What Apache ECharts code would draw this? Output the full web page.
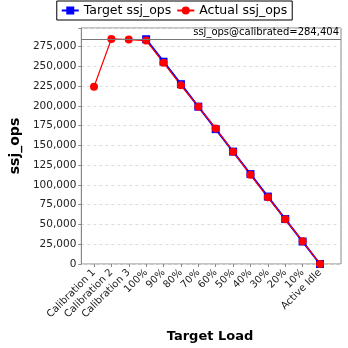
<!DOCTYPE html>
<html>
<head>
<meta charset="utf-8">
<script src="https://cdn.jsdelivr.net/npm/echarts@6/dist/echarts.min.js"></script>
<style>
  html, body { margin: 0; padding: 0; background: #fff; }
  #chart { width: 348px; height: 348px; }
</style>
</head>
<body>
<div id="chart"></div>
<script>
// Load levels along the x axis
const categories = ['Calibration 1', 'Calibration 2', 'Calibration 3', '100%', '90%', '80%', '70%',
  '60%', '50%', '40%', '30%', '20%', '10%', 'Active Idle'];
// Target throughput (only defined for the graduated load levels)
const targetOps = [null, null, null, 284404, 255964, 227523, 199083, 170642, 142202, 113762,
  85321, 56881, 28440, 0];
// Measured throughput
const actualOps = [224300, 284800, 284000, 282700, 254700, 226100, 199000, 171500, 142100, 112800,
  84400, 56500, 28700, 0];
const calibrated = 284404;
const yMax = 298624;
const yTicks = [0, 25000, 50000, 75000, 100000, 125000, 150000, 175000, 200000, 225000, 250000, 275000];

const font = 'DejaVu Sans';
const fmt = v => v.toLocaleString('en-US');

const chart = echarts.init(document.getElementById('chart'), null, { renderer: 'canvas' });
chart.setOption({
  animation: false,
  backgroundColor: '#fff',
  textStyle: { fontFamily: font },
  legend: {
    top: 1,
    left: 'center',
    itemGap: 5,
    itemWidth: 17,
    itemHeight: 10,
    padding: [3, 5, 3, 4],
    borderColor: '#000',
    borderWidth: 1,
    borderRadius: 0,
    textStyle: { fontFamily: font, fontSize: 12.5, color: '#000' },
    data: ['Target ssj_ops', 'Actual ssj_ops']
  },
  grid: [
    { left: 74, right: 7, top: 28, bottom: 84, show: true, borderColor: '#888', borderWidth: 1, backgroundColor: '#fff' },
    { left: 94, right: 28, top: 28, bottom: 84 }
  ],
  xAxis: [
    { type: 'value', gridIndex: 0, min: 0, max: 1, show: false },
    {
      type: 'category', gridIndex: 1, data: categories, boundaryGap: false,
      name: 'Target Load', nameLocation: 'middle', nameGap: 66,
      nameTextStyle: { fontFamily: font, fontSize: 13, fontWeight: 'bold', color: '#000', padding: [0, 0, 0, 6] },
      axisLine: { show: false },
      axisTick: { show: true, length: 3, lineStyle: { color: '#888' } },
      axisLabel: { rotate: 45, fontSize: 10, color: '#222', margin: 7, interval: 0, fontFamily: font },
      splitLine: { show: false }
    }
  ],
  yAxis: [
    {
      type: 'value', gridIndex: 0, min: 0, max: yMax, interval: 25000,
      name: 'ssj_ops', nameLocation: 'middle', nameGap: 54,
      nameTextStyle: { fontFamily: font, fontSize: 14, fontWeight: 'bold', color: '#000' },
      axisLine: { show: true, lineStyle: { color: '#888' } },
      axisTick: { show: true, length: 3, lineStyle: { color: '#888' } },
      axisLabel: {
        fontSize: 10.5, color: '#222', margin: 5, fontFamily: font,
        formatter: v => yTicks.includes(v) ? fmt(v) : ''
      },
      splitLine: { show: true, lineStyle: { color: '#ddd', type: [3, 3], width: 1 } }
    },
    { type: 'value', gridIndex: 1, min: 0, max: yMax, show: false }
  ],
  series: [
    {
      // Calibrated reference line across the whole plot
      type: 'line', xAxisIndex: 0, yAxisIndex: 0, data: [], silent: true,
      markLine: {
        silent: true, symbol: 'none',
        lineStyle: { color: '#777', type: 'solid', width: 1 },
        label: {
          position: 'insideEndTop', formatter: 'ssj_ops@calibrated=' + fmt(calibrated),
          fontFamily: font, fontSize: 10, color: '#000', distance: [2, 2]
        },
        data: [{ yAxis: calibrated }]
      }
    },
    {
      name: 'Target ssj_ops', type: 'line', xAxisIndex: 1, yAxisIndex: 1,
      data: targetOps, symbol: 'rect', symbolSize: 8,
      itemStyle: { color: '#0000ff' }, lineStyle: { color: '#0000ff', width: 2 }
    },
    {
      name: 'Actual ssj_ops', type: 'line', xAxisIndex: 1, yAxisIndex: 1,
      data: actualOps, symbol: 'circle', symbolSize: 8,
      itemStyle: { color: '#ff0000' }, lineStyle: { color: '#ff0000', width: 1.2 }
    }
  ]
});
</script>
</body>
</html>
